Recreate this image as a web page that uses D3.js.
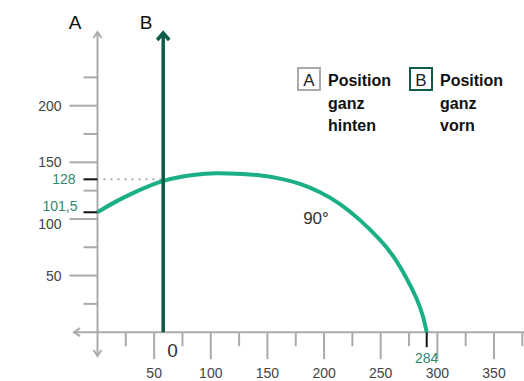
<!DOCTYPE html>
<meta charset="utf-8">
<style>
body { margin: 0; background: #fff; }
text { font-family: "Liberation Sans", Arial, sans-serif; }
</style>
<body>
<script src="https://cdn.jsdelivr.net/npm/d3@7"></script>
<script>
// axis ticks (units of axis A)
var xMajor = [50, 100, 150, 200, 250, 300, 350];
var xMinor = [25, 75, 125, 175, 225, 275, 325, 375];
var yMajor = [50, 100, 150, 200];
var yMinor = [25, 75, 125, 175, 225];

// trajectory, [distance, height]
var path90 = [[0, 105.9], [15.4, 115.2], [33.1, 123.8], [56.7, 134.4], [86.1, 139.3],
  [103.7, 140.8], [130.2, 139.6], [143.4, 138.6], [161.1, 135.9], [178.7, 131.5],
  [196.4, 124.1], [214.1, 113.8], [231.7, 99.5], [249.4, 81.9], [260.9, 68.2],
  [272.9, 47.9], [281.8, 30.2], [287.3, 15.2], [290.6, 0]];

// position B and the marked values
var posB = 58;
var yMarkAt = [105.9, 135];
var yMarkText = ["101,5", "128"];
var xMarkAt = [290.6];
var xMarkText = ["284"];

var legend = [
  {key: "A", lines: ["Position", "ganz", "hinten"]},
  {key: "B", lines: ["Position", "ganz", "vorn"]}
];

var W = 524, H = 381;
var grey = "#ababab", dark = "#0d5c4a", green = "#1baf86", gtext = "#2f8a6c";

var svg = d3.select("body").append("svg").attr("width", W).attr("height", H);

var x = d3.scaleLinear().domain([0, 350]).range([97.5, 494]);
var y = d3.scaleLinear().domain([0, 200]).range([332.2, 105.7]);

// x axis
var gx = svg.append("g").attr("transform", "translate(0," + y(0) + ")");
gx.append("line").attr("x1", 74).attr("x2", W).attr("stroke", grey).attr("stroke-width", 2);
gx.append("path").attr("d", "M80,-4 L74,0 L80,4").attr("fill", "none").attr("stroke", grey).attr("stroke-width", 2);
gx.selectAll(".mn").data(xMinor).enter().append("line")
  .attr("x1", x).attr("x2", x).attr("y1", 0).attr("y2", 14)
  .attr("stroke", grey).attr("stroke-width", 2);
gx.selectAll(".mj").data(xMajor).enter().append("line")
  .attr("x1", x).attr("x2", x).attr("y1", 0).attr("y2", 27)
  .attr("stroke", grey).attr("stroke-width", 2);
gx.selectAll(".lb").data(xMajor).enter().append("text")
  .attr("x", x).attr("y", 46).attr("text-anchor", "middle")
  .attr("font-size", 14).attr("fill", "#444").text(function(d) { return d; });

// y axis
var gy = svg.append("g").attr("transform", "translate(" + x(0) + ",0)");
gy.append("line").attr("y1", 32).attr("y2", 356).attr("stroke", grey).attr("stroke-width", 2);
gy.append("path").attr("d", "M-4,38 L0,32 L4,38").attr("fill", "none").attr("stroke", grey).attr("stroke-width", 2);
gy.append("path").attr("d", "M-4,350 L0,356 L4,350").attr("fill", "none").attr("stroke", grey).attr("stroke-width", 2);
gy.selectAll(".mn").data(yMinor).enter().append("line")
  .attr("y1", y).attr("y2", y).attr("x1", -14).attr("x2", 0)
  .attr("stroke", grey).attr("stroke-width", 2);
gy.selectAll(".mj").data(yMajor).enter().append("line")
  .attr("y1", y).attr("y2", y).attr("x1", -28).attr("x2", 0)
  .attr("stroke", grey).attr("stroke-width", 2);
gy.selectAll(".lb").data(yMajor).enter().append("text")
  .attr("x", -36).attr("y", function(d) { return y(d) + (d == 100 ? 10 : 5); })
  .attr("text-anchor", "end").attr("font-size", 14).attr("fill", "#444")
  .text(function(d) { return d; });

// marked heights
gy.selectAll(".ym").data(yMarkAt).enter().append("line")
  .attr("y1", y).attr("y2", y).attr("x1", -14).attr("x2", 0)
  .attr("stroke", "#111").attr("stroke-width", 2);
gy.selectAll(".yt").data(yMarkAt).enter().append("text")
  .attr("x", function(d, i) { return i == 0 ? -20 : -22; })
  .attr("y", function(d, i) { return y(d) + (i == 0 ? -1 : 5); })
  .attr("text-anchor", "end").attr("font-size", 14).attr("fill", gtext)
  .text(function(d, i) { return yMarkText[i]; });
svg.append("line").attr("x1", x(0) + 6).attr("x2", x(posB) - 2)
  .attr("y1", y(yMarkAt[1])).attr("y2", y(yMarkAt[1]))
  .attr("stroke", "#aaa").attr("stroke-width", 2).attr("stroke-dasharray", "2,5");

// marked distance
gx.selectAll(".xm").data(xMarkAt).enter().append("line")
  .attr("x1", x).attr("x2", x).attr("y1", 0).attr("y2", 15)
  .attr("stroke", "#111").attr("stroke-width", 2);
gx.selectAll(".xt").data(xMarkAt).enter().append("text")
  .attr("x", x).attr("y", 31).attr("text-anchor", "middle")
  .attr("font-size", 14).attr("fill", gtext)
  .text(function(d, i) { return xMarkText[i]; });

// trajectory
var line = d3.line().x(function(d) { return x(d[0]); }).y(function(d) { return y(d[1]); })
  .curve(d3.curveBasis);
svg.append("path").datum(path90).attr("d", line)
  .attr("fill", "none").attr("stroke", green).attr("stroke-width", 4);
svg.append("text").attr("x", 316).attr("y", 224).attr("text-anchor", "middle")
  .attr("font-size", 17).attr("fill", "#333").text("90°");

// B axis
svg.append("line").attr("x1", x(posB)).attr("x2", x(posB)).attr("y1", y(0)).attr("y2", 34)
  .attr("stroke", dark).attr("stroke-width", 3.5);
svg.append("path").attr("d", "M" + (x(posB) - 6) + ",40 L" + x(posB) + ",33 L" + (x(posB) + 6) + ",40")
  .attr("fill", "none").attr("stroke", dark).attr("stroke-width", 3.5);
svg.append("text").attr("x", x(posB) + 4).attr("y", y(0) + 25)
  .attr("font-size", 19).attr("fill", "#333").text("0");

// A / B headings
svg.append("text").attr("x", 75).attr("y", 29).attr("text-anchor", "middle")
  .attr("font-family", "Open Sans").attr("font-size", 19).attr("fill", "#111").text("A");
svg.append("text").attr("x", 146).attr("y", 29).attr("text-anchor", "middle")
  .attr("font-family", "Open Sans").attr("font-size", 19).attr("fill", "#111").text("B");

// legend
var lg = svg.selectAll(".lg").data(legend).enter().append("g")
  .attr("transform", function(d, i) { return "translate(" + (298 + i * 112) + ",68)"; });
lg.append("rect").attr("width", 22).attr("height", 22).attr("fill", "none")
  .attr("stroke", function(d, i) { return i ? dark : "#aaa"; }).attr("stroke-width", 2);
lg.append("text").attr("x", 11).attr("y", 18).attr("text-anchor", "middle")
  .attr("font-size", 17).attr("fill", "#222").text(function(d) { return d.key; });
lg.each(function(d) {
  d3.select(this).selectAll(".t").data(d.lines).enter().append("text")
    .attr("x", 30).attr("y", function(s, j) { return 18 + j * 22.5; })
    .attr("font-family", "'Liberation Sans Narrow', 'Liberation Sans', sans-serif")
    .attr("font-weight", "bold").attr("font-size", 16).attr("fill", "#111").text(function(s) { return s; });
});
</script>
</body>
</html>
